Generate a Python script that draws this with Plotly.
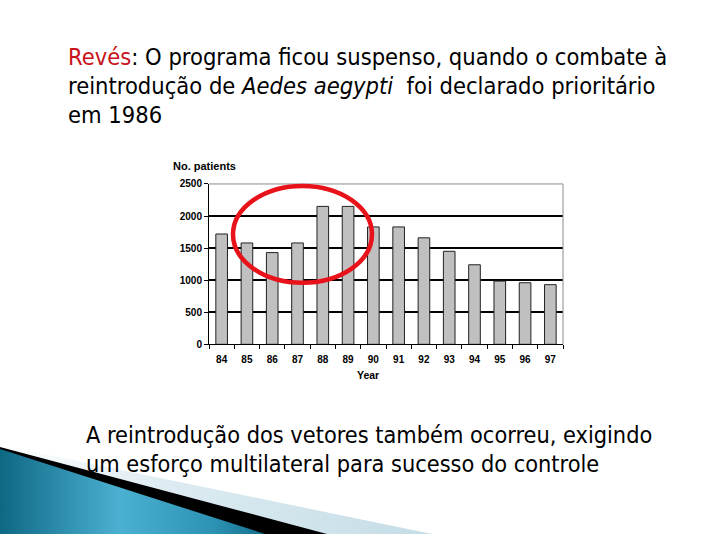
import plotly.graph_objects as go

W, H = 720, 540

years = ["84", "85", "86", "87", "88", "89", "90", "91", "92", "93", "94", "95", "96", "97"]
patients = [1720, 1580, 1430, 1580, 2150, 2150, 1830, 1830, 1660, 1450, 1240, 985, 960, 930]

y_ticks = [0, 500, 1000, 1500, 2000, 2500]

top_lines = [
    '<span style="color:#c8141c">Revés</span>: O programa ficou suspenso, quando o combate à',
    'reintrodução de <i>Aedes aegypti</i>  foi declarado prioritário',
    'em 1986',
]
bottom_lines = [
    'A reintrodução dos vetores também ocorreu, exigindo',
    'um esforço multilateral para sucesso do controle',
]

# plot area in pixels
px0, px1 = 209, 563
py0, py1 = 182, 346

def fx(px):
    return px / W

def fy(py):
    return 1 - py / H

TXT_FONT = 'DejaVu Sans Condensed, DejaVu Sans'
AX_FONT = dict(family='Liberation Sans', size=10, weight='bold', color='black')

fig = go.Figure()

fig.add_trace(go.Bar(
    x=years, y=patients,
    marker=dict(color='#c0c0c0', line=dict(color='#222222', width=1)),
    showlegend=False, hoverinfo='x+y'))

# decorative swoosh, drawn on a full-page overlay axis
def poly(xs, ys, **kw):
    fig.add_trace(go.Scatter(x=xs, y=ys, mode='lines', fill='toself',
                             line=dict(width=0), xaxis='x2', yaxis='y2',
                             showlegend=False, hoverinfo='skip', **kw))

poly([0, 432, 0, 0], [449, 540, 540, 449],
     fillgradient=dict(type='horizontal',
                       colorscale=[[0, '#ffffff'], [0.4, '#dcebf1'], [1, '#c5dde7']]))
poly([0, 327, 0, 0], [451, 540, 540, 451], fillcolor='#000000')
poly([0, 265, 0, 0], [453, 540, 540, 453],
     fillgradient=dict(type='horizontal',
                       colorscale=[[0, '#0e6884'], [0.45, '#4cb0d2'], [0.8, '#2d93b4'], [1, '#14708c']]))

fig.update_layout(
    width=W, height=H,
    margin=dict(l=0, r=0, t=0, b=0),
    paper_bgcolor='white', plot_bgcolor='rgba(0,0,0,0)',
    bargap=0.54,
    font=dict(family='Liberation Sans', size=10, color='black'),
    xaxis=dict(domain=[fx(px0), fx(px1)], type='category', range=[-0.5, 13.5],
               showline=True, linecolor='black', linewidth=1,
               ticks='outside', tickson='boundaries', ticklen=4, tickcolor='black',
               tickfont=AX_FONT, ticklabelstandoff=6,
               showgrid=False, fixedrange=True),
    yaxis=dict(domain=[fy(py1), fy(py0)], range=[0, 2500], tickvals=y_ticks,
               showline=True, linecolor='black', linewidth=1,
               ticks='outside', ticklen=4, tickcolor='black',
               tickfont=AX_FONT,
               showgrid=True, gridcolor='black', gridwidth=1.6,
               zeroline=False, fixedrange=True),
    xaxis2=dict(domain=[0, 1], range=[0, W], visible=False, anchor='y2', fixedrange=True),
    yaxis2=dict(domain=[0, 1], range=[H, 0], visible=False, anchor='x2', fixedrange=True),
)

# gray frame on top and right of plot area
fig.add_shape(type='line', xref='paper', yref='paper',
              x0=fx(px0), x1=fx(px1), y0=fy(py0), y1=fy(py0),
              line=dict(color='#8c8c8c', width=1))
fig.add_shape(type='line', xref='paper', yref='paper',
              x0=fx(px1), x1=fx(px1), y0=fy(py0), y1=fy(py1),
              line=dict(color='#8c8c8c', width=1))

# red ellipse highlight
fig.add_shape(type='circle', xref='paper', yref='paper',
              x0=fx(233), x1=fx(372), y0=fy(283), y1=fy(184),
              line=dict(color='#e8121a', width=4.5))

# axis titles
fig.add_annotation(text='No. patients', xref='paper', yref='paper',
                   x=fx(171), y=fy(164), xanchor='left', yanchor='middle',
                   showarrow=False, font=dict(AX_FONT, size=11))
fig.add_annotation(text='Year', xref='paper', yref='paper',
                   x=fx(368), y=fy(377), xanchor='center', yanchor='middle',
                   showarrow=False, font=dict(AX_FONT, size=10.5))

for i, t in enumerate(top_lines):
    fig.add_annotation(text=t, xref='paper', yref='paper',
                       x=fx(66), y=fy(52 + i * 29.5), xanchor='left', yanchor='middle',
                       showarrow=False, font=dict(family=TXT_FONT, size=23.5, color='black'))

for i, t in enumerate(bottom_lines):
    fig.add_annotation(text=t, xref='paper', yref='paper',
                       x=fx(84), y=fy(438 + i * 29.5), xanchor='left', yanchor='middle',
                       showarrow=False, font=dict(family=TXT_FONT, size=23.3, color='black'))

fig.write_html("out.html", config=dict(displayModeBar=False),
               post_script="document.body.style.margin='0px';")
